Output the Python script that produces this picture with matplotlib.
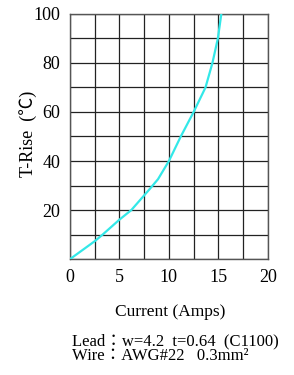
import matplotlib.pyplot as plt

# Data
current = [0, 2.5, 3.3, 5, 6.2, 7.5, 8.0, 8.9, 10, 11.2, 12.5, 13.7, 14.4, 14.95, 15.3]
t_rise = [0, 7.3, 10, 16.1, 20, 26.0, 28.3, 32.6, 40, 50, 60, 70, 80, 90, 100]
x_ticks = [0, 5, 10, 15, 20]
y_ticks = [20, 40, 60, 80, 100]
note_lines = ["Lead\uff1aw=4.2  t=0.64  (C1100)", "Wire\uff1aAWG#22   0.3mm\u00b2"]

serif = ['Liberation Serif', 'DejaVu Serif']
note_font = ['Liberation Serif', 'Noto Sans CJK JP', 'DejaVu Sans']

fig = plt.figure(figsize=(2.94, 3.75), dpi=100)
ax = fig.add_axes([0.238, 0.309, 0.673, 0.654])

ax.plot(current, t_rise, color='#33e8e8', lw=1.6, zorder=3)

x_grid = [i * 2.5 for i in range(9)]
y_grid = list(range(0, 101, 10))
ax.set_xlim(0, 20)
ax.set_ylim(0, 100)
ax.set_xticks(x_grid)
ax.set_yticks(y_grid)
ax.grid(True, color='#222222', lw=0.9)
ax.tick_params(length=0, pad=7, labelsize=13)
ax.set_xticklabels(['%d' % v if v in x_ticks else '' for v in x_grid], family=serif)
ax.set_yticklabels([str(v) if v in y_ticks else '' for v in y_grid], family=serif)
for s in ax.spines.values():
    s.set_color('#555555')
    s.set_linewidth(1.0)

fig.text(0.095, 0.36 + 0.654 / 2 - 0.045, 'T-Rise  (\u2103)',
         family=['Liberation Serif', 'Noto Sans CJK JP'],
         fontsize=13, rotation=90, ha='center', va='center')
fig.text(0.578, 0.167, 'Current (Amps)', family=serif, fontsize=12.5, ha='center', va='center')
fig.text(0.245, 0.09, note_lines[0], family=note_font, fontsize=12, ha='left', va='center')
fig.text(0.245, 0.05, note_lines[1], family=note_font, fontsize=12, ha='left', va='center')

fig.savefig('out.png', dpi=100)
